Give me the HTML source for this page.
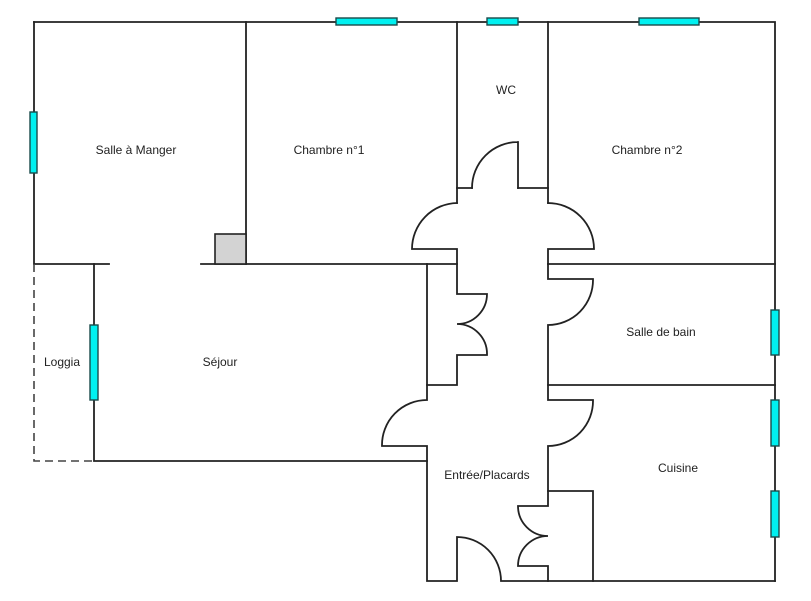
<!DOCTYPE html>
<html><head><meta charset="utf-8"><style>
html,body{margin:0;padding:0;background:#fff;}
svg{display:block;}
text{font-family:"Liberation Sans",Arial,sans-serif;font-size:12px;fill:#222;text-anchor:middle;}
</style></head><body>
<svg width="811" height="601" viewBox="0 0 811 601" xmlns="http://www.w3.org/2000/svg">
<g stroke="#222" stroke-width="1.8" fill="none" stroke-linecap="square">
<!-- outer -->
<path d="M34 22 H775 V581"/>
<path d="M34 22 V264 H109"/>
<path d="M246 22 V264"/>
<path d="M201 264 H457"/>
<path d="M548 264 H775"/>
<path d="M94 264 V461 H427"/>
<!-- WC -->
<path d="M457 22 V203"/>
<path d="M548 22 V203"/>
<path d="M457 188 H472"/>
<path d="M518 188 H548"/>
<path d="M518 188 V142 M518 142 A46 46 0 0 0 472 188"/>
<!-- corridor doors upper -->
<path d="M457 203 A46 46 0 0 0 412 249 H457 V294 H487 A30 30 0 0 1 457 324 A30 30 0 0 1 487 355 H457 V385 H427 V264"/>
<path d="M548 203 A46 46 0 0 1 594 249 H548 V264"/>
<path d="M548 264 V279 H593 A45 45 0 0 1 548 325 V400 H593 A45 45 0 0 1 548 446 V491 H593 V581"/>
<path d="M548 385 H775"/>
<!-- entrance -->
<path d="M427 385 V400 A45 45 0 0 0 382 446 H427 V581 H457 V537 A44 44 0 0 1 501 581 H775"/>
<path d="M548 491 V506 H518 A30 30 0 0 0 548 536 A30 30 0 0 0 518 566 H548 V581"/>
</g>
<!-- loggia dashed -->
<path d="M34 264 V461 H94" stroke="#444" stroke-width="1.6" fill="none" stroke-dasharray="8,5"/>
<!-- grey square -->
<rect x="215" y="234" width="31" height="30" fill="#d3d3d3" stroke="#222" stroke-width="1.6"/>
<!-- windows -->
<g fill="#00f0f0" stroke="#1a4a4a" stroke-width="1.4">
<rect x="336" y="18" width="61" height="7"/>
<rect x="487" y="18" width="31" height="7"/>
<rect x="639" y="18" width="60" height="7"/>
<rect x="30" y="112" width="7" height="61"/>
<rect x="90" y="325" width="8" height="75"/>
<rect x="771" y="310" width="8" height="45"/>
<rect x="771" y="400" width="8" height="46"/>
<rect x="771" y="491" width="8" height="46"/>
</g>
<text x="136" y="154">Salle à Manger</text>
<text x="329" y="154">Chambre n°1</text>
<text x="506" y="94">WC</text>
<text x="647" y="154">Chambre n°2</text>
<text x="661" y="336">Salle de bain</text>
<text x="220" y="366">Séjour</text>
<text x="62" y="366">Loggia</text>
<text x="487" y="479">Entrée/Placards</text>
<text x="678" y="472">Cuisine</text>
</svg>
</body></html>
